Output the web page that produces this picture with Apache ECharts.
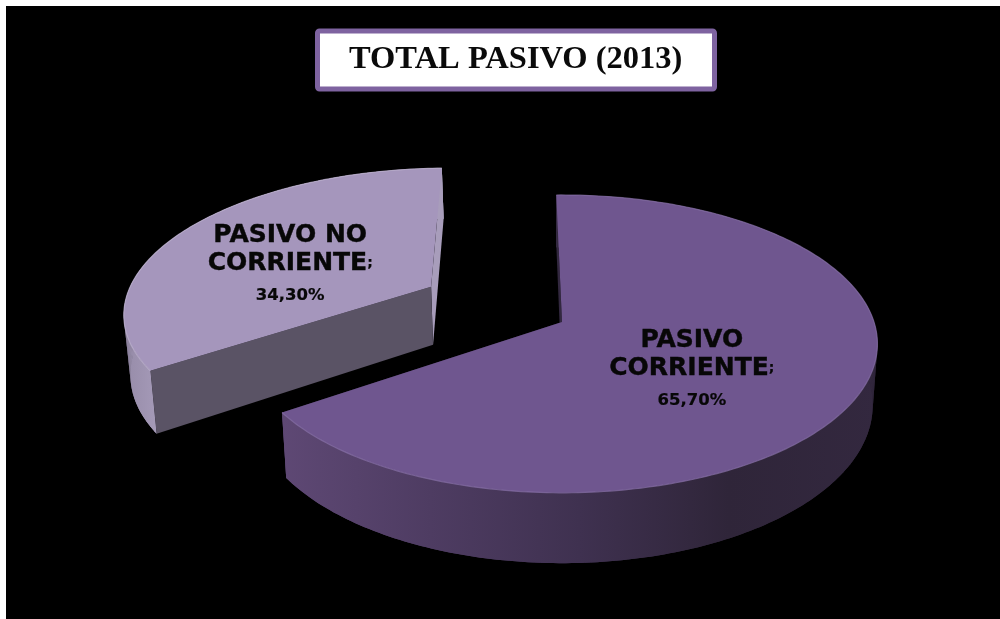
<!DOCTYPE html>
<html>
<head>
<meta charset="utf-8">
<style>
html,body{margin:0;padding:0;background:#fff}
#chart{width:1000px;height:619px}
</style>
<script src="https://cdn.jsdelivr.net/npm/echarts@6/dist/echarts.min.js"></script>
</head>
<body>
<div id="chart"></div>
<script>
// Liabilities split for 2013, in percent
const sliceNames = ['PASIVO\nCORRIENTE', 'PASIVO NO\nCORRIENTE'];
const sliceValues = [65.7, 34.3];
const chartTitle = 'TOTAL PASIVO (2013)';

// Per-slice styling and layout
const topColors = ['#6f568f', '#a596bc'];
const rimColors = ['#8870a6', '#bdb2cf'];
const startWallColors = ['#32283f', '#5a5365'];
const endWallColors = ['#32283f', '#a89dbb'];
const wallStops = [
  [[0, '#5e4874'], [0.25, '#4e3c62'], [0.5, '#3f3150'], [0.75, '#2f2539'], [1, '#33283f']],
  [[0, '#968ba8'], [1, '#a89dbb']]
];
const explodeOffsets = [[0, 0], [-0.435, -0.25]];
const labelRadius = [0.47, 0.55];
const labelNudge = [[-5, 19], [-3, 14]];

// Perspective view of the pie plane
const view = { cx: 562, cy: 322, rx: 312, ry: 145.7, k: 0.147, depth: 60, shrink: 0.985, startDeg: -1.2 };

function project(u, v) {
  const w = 1 - view.k * v;
  return [view.cx + view.rx * u / w, view.cy + view.ry * v / w];
}
function projectBase(u, v) {
  const w = 1 - view.k * v;
  const p = project(u, v);
  return [view.cx + (p[0] - view.cx) * view.shrink, p[1] + view.depth / w];
}
function polar(deg, r, off) {
  const a = deg * Math.PI / 180;
  return [off[0] + r * Math.sin(a), off[1] - r * Math.cos(a)];
}
function arcOf(from, to, off, fn) {
  const pts = [];
  const n = Math.ceil(Math.abs(to - from));
  for (let i = 0; i <= n; i++) {
    const q = polar(from + (to - from) * i / n, 1, off);
    pts.push(fn(q[0], q[1]));
  }
  return pts;
}

const total = sliceValues.reduce((a, b) => a + b, 0);

function renderSlice(params, api) {
  const i = params.dataIndex;
  const value = api.value(0);
  let from = view.startDeg;
  for (let j = 0; j < i; j++) from += sliceValues[j] / total * 360;
  const to = from + value / total * 360;
  const off = explodeOffsets[i];

  const topArc = arcOf(from, to, off, project);
  const baseArc = arcOf(from, to, off, projectBase);
  const apex = project(off[0], off[1]);
  const apexBase = projectBase(off[0], off[1]);
  const xs = topArc.map(p => p[0]);

  const wallFill = {
    type: 'linear', global: true,
    x: Math.min.apply(null, xs), y: 0, x2: Math.max.apply(null, xs), y2: 0,
    colorStops: wallStops[i].map(s => ({ offset: s[0], color: s[1] }))
  };
  if (i === 1) { wallFill.x2 = wallFill.x + 40; }

  const wall = (a, b, ab, bb, fill) => ({
    type: 'polygon', shape: { points: [a, b, bb, ab] }, style: { fill: fill }, silent: true
  });

  // Back radial wall, outer wall (band plus quads so the silhouette stays convex),
  // front radial wall, then the cap and its rim
  const children = [wall(apex, topArc[topArc.length - 1], apexBase, baseArc[baseArc.length - 1], endWallColors[i])];
  children.push({ type: 'polygon', shape: { points: topArc.concat(baseArc.slice().reverse()) }, style: { fill: wallFill }, silent: true });
  for (let j = 0; j < topArc.length - 1; j++) {
    children.push(wall(topArc[j], topArc[j + 1], baseArc[j], baseArc[j + 1], wallFill));
  }
  children.push(wall(apex, topArc[0], apexBase, baseArc[0], startWallColors[i]));
  children.push({ type: 'polygon', shape: { points: [apex].concat(topArc) }, style: { fill: topColors[i] }, silent: true });
  children.push({ type: 'polyline', shape: { points: topArc }, style: { stroke: rimColors[i], lineWidth: 1.2, fill: null, opacity: 0.7 }, silent: true });

  const mid = polar((from + to) / 2, labelRadius[i], off);
  const c = project(mid[0], mid[1]);
  const pct = value.toFixed(2).replace('.', ',') + '%';
  const lines = sliceNames[i].split('\n');
  const ink = { fill: '#070707', stroke: '#070707', fontFamily: 'DejaVu Sans', fontWeight: 'bold' };
  children.push({
    type: 'text', x: c[0] + labelNudge[i][0], y: c[1] + labelNudge[i][1], silent: true,
    style: {
      text: '{n|' + lines[0] + '}\n{n|' + lines[1] + '}{s|;}\n{p|' + pct + '}',
      align: 'center', verticalAlign: 'middle',
      rich: {
        n: Object.assign({}, ink, { fontSize: 25, lineHeight: 28, lineWidth: 0.4, align: 'center' }),
        s: Object.assign({}, ink, { fontSize: 14, lineHeight: 28, lineWidth: 0.2 }),
        p: Object.assign({}, ink, { fontSize: 16.5, lineHeight: 38, lineWidth: 0.2, align: 'center' })
      }
    }
  });
  return { type: 'group', children: children };
}

const chart = echarts.init(document.getElementById('chart'), null, { renderer: 'canvas' });
chart.setOption({
  animation: false,
  backgroundColor: '#fff',
  graphic: [{ type: 'rect', z: -10, shape: { x: 6, y: 6, width: 994, height: 613 }, style: { fill: '#000' }, silent: true }],
  title: {
    text: chartTitle,
    left: 317.5, top: 30.5,
    padding: [13, 32.5, 13, 31.5],
    backgroundColor: '#fff',
    borderColor: '#7e63a0',
    borderWidth: 5,
    borderRadius: 2,
    textStyle: { fontFamily: 'Liberation Serif', fontWeight: 'bold', fontSize: 32.5, color: '#0a0a0a' }
  },
  series: [{
    type: 'custom',
    coordinateSystem: 'none',
    renderItem: renderSlice,
    data: sliceValues.map(v => [v])
  }]
});
</script>
</body>
</html>
